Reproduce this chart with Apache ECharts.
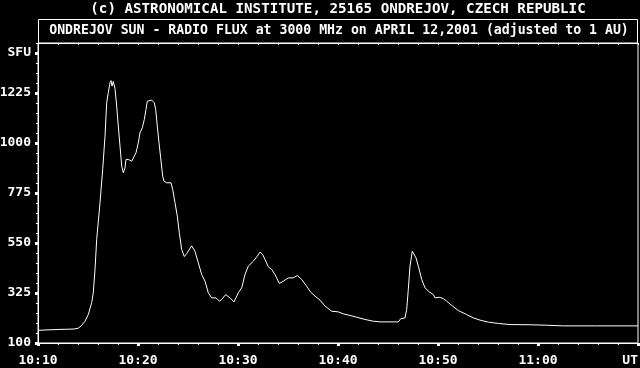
<!DOCTYPE html>
<html><head><meta charset="utf-8">
<script src="https://cdn.jsdelivr.net/npm/echarts@6/dist/echarts.min.js"></script>
<style>html,body{margin:0;padding:0;background:#000}#c{width:640px;height:368px}</style>
</head><body><div id="c"></div>
<script>
const titleText = "(c) ASTRONOMICAL INSTITUTE, 25165 ONDREJOV, CZECH REPUBLIC";
const subtitleText = "ONDREJOV SUN - RADIO FLUX at 3000 MHz on APRIL 12,2001 (adjusted to 1 AU)";
// time in minutes after 00:00 UT
const minutes = [610,611,612,613,613.6,614,614.3,614.7,615.03,615.37,615.53,615.7,615.87,616.2,616.47,616.7,616.87,617.03,617.2,617.3,617.4,617.53,617.7,617.87,618.03,618.2,618.37,618.53,618.7,618.8,619.03,619.2,619.37,619.53,619.8,620.03,620.2,620.43,620.63,620.8,620.93,621.13,621.37,621.53,621.63,621.77,621.93,622.1,622.27,622.47,622.6,622.87,623.3,623.47,623.7,623.93,624.13,624.37,624.63,624.87,625.37,625.7,626.03,626.37,626.7,627.03,627.37,627.8,628.13,628.37,628.77,629.2,629.6,630.03,630.37,630.7,631.03,631.53,631.93,632.2,632.47,632.7,633.03,633.37,633.7,634.13,634.53,635.03,635.53,635.93,636.37,636.8,637.27,637.7,638.2,638.7,639.37,640.03,640.53,641.2,641.87,642.7,643.53,644.2,645.2,646.03,646.27,646.7,646.87,647.03,647.2,647.43,647.6,647.8,648.03,648.37,648.7,649.13,649.53,649.7,650.13,650.53,650.87,651.37,652.03,652.87,653.53,654.2,655.03,656.03,657.2,659.2,660.87,662.53,665.87,670];
const flux = [157,159,161,162,163,166,176,198,228,282,327,431,566,732,881,1031,1182,1227,1271,1281,1256,1277,1245,1166,1076,986,896,866,888,926,926,930,918,926,956,1001,1046,1068,1106,1151,1188,1184,1193,1196,1181,1151,1076,1001,933,851,828,821,821,791,731,671,596,521,489,503,537,512,461,408,378,326,303,303,288,296,318,303,285,326,348,408,446,468,491,509,498,476,443,431,408,368,378,393,393,404,386,359,329,311,293,266,243,240,231,224,216,206,198,195,195,195,209,213,251,341,446,513,513,483,446,386,348,330,318,303,306,300,288,269,246,228,213,203,194,188,183,182,180,177,177,177];
const yLabelValues = [100,325,550,775,1000,1225,1405];
const yMinorValues = [];
for (let v = 100; v <= 1450; v += 45) yMinorValues.push(v);
const xMin = 610, xMax = 670;

const FONT = '"DejaVu Sans Mono", "Liberation Mono", monospace';
const chart = echarts.init(document.getElementById('c'), null, {renderer:'canvas'});
function hhmm(v){
  if (v >= xMax) return 'UT';
  const h = Math.floor(v/60), m = Math.round(v%60);
  return h + ':' + (m<10?'0':'') + m;
}
chart.setOption({
  backgroundColor:'#000',
  animation:false,
  title:[
    {text:titleText, left:338, top:2, padding:0, textAlign:'center',
     textStyle:{color:'#fff', fontFamily:FONT, fontWeight:'bold', fontSize:14.2}},
    {text:subtitleText, left:339, top:24, padding:0, textAlign:'center',
     textStyle:{color:'#fff', fontFamily:FONT, fontWeight:'bold', fontSize:13.2}}
  ],
  graphic:[{type:'rect', shape:{x:38.5, y:19.5, width:599, height:24},
    style:{fill:null, stroke:'#fff', lineWidth:1}, silent:true}],
  grid:{left:38, top:43, width:600, height:300, outerBoundsMode:'none', containLabel:false,
    show:true, borderColor:'#fff', borderWidth:1, backgroundColor:'transparent'},
  xAxis:[
    {type:'value', min:xMin, max:xMax, interval:10, position:'bottom',
     axisLine:{show:true, lineStyle:{color:'#fff', width:1}},
     axisTick:{show:true, length:3, lineStyle:{color:'#fff', width:3}},
     minorTick:{show:true, splitNumber:5, length:2, lineStyle:{color:'#fff', width:1}},
     splitLine:{show:false},
     axisLabel:{color:'#fff', fontFamily:FONT, fontWeight:'bold', fontSize:13, margin:11,
       formatter:hhmm, alignMaxLabel:'right', showMaxLabel:true, showMinLabel:true}},
    {type:'value', min:xMin, max:xMax, interval:10, position:'top',
     axisLine:{show:false},
     axisTick:{show:true, inside:true, length:2, lineStyle:{color:'#fff', width:1}},
     minorTick:{show:true, splitNumber:5, length:2, lineStyle:{color:'#fff', width:1}},
     splitLine:{show:false}, axisLabel:{show:false}}
  ],
  yAxis:[
    {type:'value', min:100, max:1450, position:'left',
     axisLine:{show:true, lineStyle:{color:'#fff', width:1}},
     axisTick:{show:true, length:3, customValues:yLabelValues, lineStyle:{color:'#fff', width:3}},
     splitLine:{show:false},
     axisLabel:{color:'#fff', fontFamily:FONT, fontWeight:'bold', fontSize:13, margin:7,
       customValues:yLabelValues, formatter:v=> v===1405?'SFU':String(v)}},
    {type:'value', min:100, max:1450, position:'left',
     axisLine:{show:false},
     axisTick:{show:true, length:2, customValues:yMinorValues, lineStyle:{color:'#fff', width:1}},
     splitLine:{show:false}, axisLabel:{show:false}}
  ],
  series:[{type:'line', xAxisIndex:0, yAxisIndex:0, symbol:'none', smooth:false,
    lineStyle:{color:'#fff', width:1},
    data: minutes.map((t,i)=>[t, flux[i]])}]
});
</script></body></html>
